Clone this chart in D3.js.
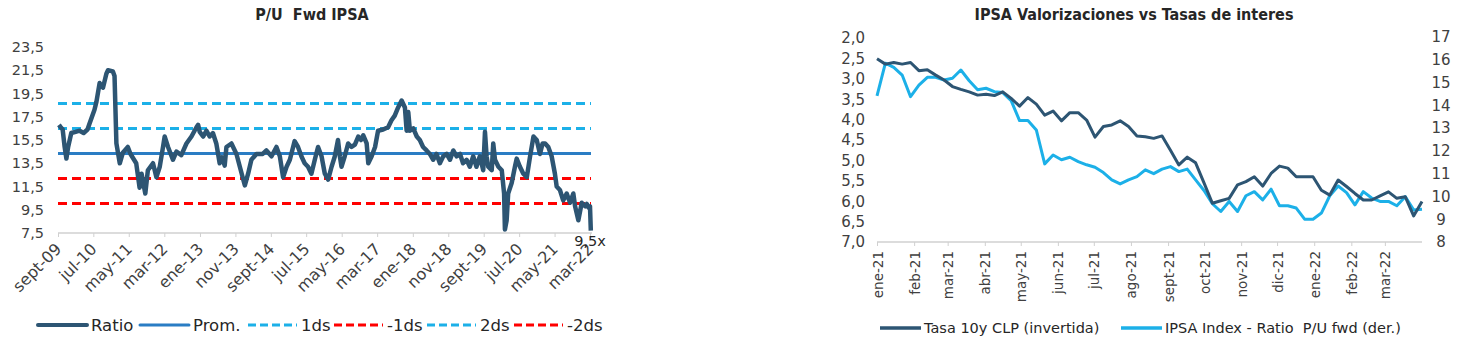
<!DOCTYPE html>
<html>
<head>
<meta charset="utf-8">
<script src="https://cdn.jsdelivr.net/npm/d3@7"></script>
<style>
  body { margin: 0; background: #fff; }
  text { font-family: "DejaVu Sans", sans-serif; }
  text.title { font-family: "DejaVu Sans Condensed", "DejaVu Sans", sans-serif; }
</style>
</head>
<body>
<svg id="chart" width="1470" height="354"></svg>
<script>
// ---------- data: P/U fwd IPSA (left chart) ----------
const ratioDates = ["2009-09-09","2009-09-24","2009-10-11","2009-10-28","2009-11-12","2009-11-27","2009-12-24","2010-01-30","2010-03-05","2010-04-09",
  "2010-05-12","2010-05-29","2010-07-11","2010-07-28","2010-08-24","2010-09-22","2010-10-21","2010-11-04","2010-12-16","2010-12-30",
  "2011-01-15","2011-02-13","2011-03-11","2011-04-23","2011-05-16","2011-07-04","2011-08-02","2011-08-19","2011-09-20","2011-10-12",
  "2011-11-25","2011-12-24","2012-01-22","2012-02-19","2012-03-04","2012-04-02","2012-05-14","2012-06-13","2012-07-25","2012-09-07",
  "2012-10-20","2012-12-02","2012-12-16","2012-12-30","2013-01-28","2013-02-26","2013-03-25","2013-04-22","2013-05-21","2013-06-19",
  "2013-07-10","2013-08-01","2013-08-16","2013-09-28","2013-11-10","2013-12-09","2014-01-07","2014-01-21","2014-02-18","2014-03-18",
  "2014-04-30","2014-06-23","2014-07-25","2014-09-07","2014-10-19","2014-11-17","2014-12-15","2015-01-14","2015-02-11","2015-03-24",
  "2015-04-22","2015-05-21","2015-06-18","2015-07-17","2015-08-15","2015-09-13","2015-10-11","2015-11-10","2015-12-08","2016-01-06",
  "2016-02-04","2016-03-03","2016-03-30","2016-04-15","2016-04-29","2016-05-27","2016-06-25","2016-07-24","2016-08-22","2016-09-20",
  "2016-10-13","2016-11-02","2016-12-01","2016-12-15","2017-01-13","2017-02-11","2017-03-09","2017-04-21","2017-06-03","2017-07-02",
  "2017-07-30","2017-08-28","2017-09-27","2017-10-25","2017-11-09","2017-11-23","2017-12-07","2018-01-05","2018-02-04","2018-03-02",
  "2018-03-30","2018-04-29","2018-05-27","2018-06-24","2018-07-23","2018-08-21","2018-09-19","2018-10-18","2018-11-16","2018-12-14",
  "2019-01-12","2019-02-10","2019-03-08","2019-04-07","2019-05-05","2019-06-03","2019-07-01","2019-07-30","2019-08-28","2019-09-12",
  "2019-09-26","2019-10-10","2019-11-09","2019-11-22","2019-12-07","2020-01-05","2020-02-03","2020-02-23","2020-03-01","2020-03-16",
  "2020-03-29","2020-04-28","2020-05-26","2020-06-10","2020-07-08","2020-08-06","2020-09-05","2020-10-03","2020-11-01","2020-11-29",
  "2020-12-27","2021-01-18","2021-02-09","2021-03-08","2021-04-06","2021-05-04","2021-05-19","2021-06-16","2021-07-14","2021-08-13",
  "2021-09-11","2021-10-09","2021-10-24","2021-11-21","2021-12-20","2022-01-18","2022-02-02","2022-02-16","2022-03-01","2022-03-08"];
const ratioValues = [16.8,16.6,16.4,14.9,13.9,14.9,16.1,16.2,16.3,16.1,
  16.4,16.9,18.1,18.8,20.4,20.0,21.2,21.5,21.4,21.0,
  15.2,13.5,14.4,14.9,14.3,13.5,11.4,12.6,10.9,12.9,
  13.5,12.3,13.2,14.9,15.8,14.9,13.8,14.5,14.2,15.2,
  15.8,16.6,16.8,16.2,15.8,16.3,15.8,16.1,15.2,13.5,
  14.0,13.3,14.9,15.2,14.3,13.2,12.1,11.6,12.6,13.8,
  14.3,14.3,14.6,14.1,14.9,14.1,12.3,13.2,13.8,15.4,
  14.9,14.1,13.5,13.2,12.6,13.8,14.9,14.1,12.6,12.1,
  13.2,14.1,15.5,14.1,13.2,14.1,15.2,14.9,15.1,15.8,
  15.5,15.9,15.2,13.5,14.1,14.9,16.3,16.4,16.6,17.2,
  17.6,18.3,18.9,18.3,16.3,17.9,16.3,16.5,15.8,15.5,
  14.9,14.6,14.3,13.8,14.3,13.5,14.1,14.3,13.8,14.6,
  14.1,14.3,13.5,13.8,13.2,14.1,13.2,14.1,12.9,16.2,
  14.1,13.2,12.9,15.2,13.8,13.2,12.9,10.9,7.8,8.6,
  10.9,11.8,13.2,13.9,13.2,12.6,12.3,14.1,15.8,15.5,
  14.3,15.2,15.2,14.9,14.1,12.6,11.5,11.2,10.3,10.9,
  10.1,10.9,9.8,8.6,10.1,9.8,10.0,9.7,9.8,7.7];
const bandNames = ["Prom.", "1ds", "-1ds", "2ds", "-2ds"];
const bandValues = [14.34, 16.49, 12.19, 18.64, 10.04];
const leftYTicks = [7.5, 9.5, 11.5, 13.5, 15.5, 17.5, 19.5, 21.5, 23.5];
const leftXTickDates = ["2009-09-01","2010-07-01","2011-05-01","2012-03-01","2013-01-01","2013-11-01","2014-09-01","2015-07-01",
  "2016-05-01","2017-03-01","2018-01-01","2018-11-01","2019-09-01","2020-07-01","2021-05-01","2022-03-01"];
const leftXTickLabels = ["sept-09","jul-10","may-11","mar-12","ene-13","nov-13","sept-14","jul-15",
  "may-16","mar-17","ene-18","nov-18","sept-19","jul-20","may-21","mar-22"];
const lastLabel = "9,5x";

// ---------- data: IPSA valorizaciones vs tasas (right chart) ----------
const tasa10y = [2.51,2.64,2.60,2.64,2.60,2.80,2.78,2.91,3.03,3.19,3.26,3.32,3.40,3.38,3.41,3.32,3.48,3.67,3.46,3.62,
  3.89,3.79,4.03,3.83,3.83,4.01,4.43,4.17,4.13,4.03,4.17,4.40,4.42,4.46,4.40,4.75,5.11,4.92,5.06,5.55,
  6.05,5.99,5.93,5.60,5.52,5.40,5.63,5.32,5.14,5.19,5.40,5.40,5.40,5.73,5.85,5.48,5.64,5.81,5.97,5.97,
  5.87,5.77,5.93,5.89,6.36,6.01];
const ipsaPU = [14.41,15.85,15.67,15.33,14.38,14.89,15.23,15.23,15.11,15.19,15.55,15.08,14.68,14.75,14.60,14.56,14.21,13.33,13.33,12.92,
  11.43,11.82,11.61,11.72,11.53,11.39,11.28,11.05,10.73,10.55,10.73,10.87,11.17,11.00,11.20,11.31,11.09,11.20,10.73,10.26,
  9.68,9.34,9.78,9.34,10.03,10.21,9.85,10.32,9.59,9.59,9.49,9.00,9.00,9.27,10.03,10.46,10.17,9.63,10.21,9.93,
  9.78,9.78,9.59,9.99,9.41,9.44];
const rightStart = "2021-01-01", rightEnd = "2022-04-01";
const rightXTickDates = ["2021-01-01","2021-02-01","2021-03-01","2021-04-01","2021-05-01","2021-06-01","2021-07-01","2021-08-01",
  "2021-09-01","2021-10-01","2021-11-01","2021-12-01","2022-01-01","2022-02-01","2022-03-01"];
const rightXTickLabels = ["ene-21","feb-21","mar-21","abr-21","may-21","jun-21","jul-21","ago-21",
  "sept-21","oct-21","nov-21","dic-21","ene-22","feb-22","mar-22"];
const tasaTicks = [2.0, 2.5, 3.0, 3.5, 4.0, 4.5, 5.0, 5.5, 6.0, 6.5, 7.0];
const puTicks = [8, 9, 10, 11, 12, 13, 14, 15, 16, 17];

const parse = d3.timeParse("%Y-%m-%d");
const fmt1 = d => d3.format(".1f")(d).replace(".", ",");
const svg = d3.select("#chart");

const darkBlue = "#2d5573", midBlue = "#2a7dc4", lightBlue = "#1cb0e8", red = "#ff0000", axisGray = "#d0d0d0", labelCol = "#404040";

// ================= LEFT CHART =================
const L = { x0: 58, x1: 590, y0: 233, y1: 47 };
const xL = d3.scaleTime().domain([parse("2009-09-01"), parse("2022-03-01")]).range([L.x0, L.x1]);
const yL = d3.scaleLinear().domain([7.5, 23.5]).range([L.y0, L.y1]);

svg.append("text").attr("class", "title").attr("x", 312).attr("y", 20).attr("text-anchor", "middle")
  .attr("font-size", 16).attr("font-weight", "bold").attr("fill", "#262626")
  .attr("xml:space", "preserve").text("P/U  Fwd IPSA");

const gLy = svg.append("g").attr("transform", `translate(${L.x0},0)`)
  .call(d3.axisLeft(yL).tickValues(leftYTicks).tickSize(0).tickPadding(14).tickFormat(fmt1));
gLy.select(".domain").remove();
gLy.selectAll("text").attr("font-size", 14.5).attr("fill", labelCol).attr("font-family", null);

const gLx = svg.append("g").attr("transform", `translate(0,${L.y0})`)
  .call(d3.axisBottom(xL).tickValues(leftXTickDates.map(parse)).tickSize(4).tickFormat((d, i) => leftXTickLabels[i]));
gLx.select(".domain").attr("stroke", axisGray).attr("stroke-width", 1.5).attr("d", `M${L.x0},0H${L.x1 + 2}`);
gLx.selectAll(".tick line").attr("stroke", axisGray);
gLx.selectAll("text").attr("font-size", 16).attr("fill", labelCol).attr("font-family", null)
  .attr("text-anchor", "end").attr("dy", null).attr("y", 0)
  .attr("transform", "translate(4,17) rotate(-45)");

const bandStyle = {
  "Prom.": { color: midBlue, dash: null },
  "1ds": { color: lightBlue, dash: "9,5" },
  "-1ds": { color: red, dash: "9,5" },
  "2ds": { color: lightBlue, dash: "9,5" },
  "-2ds": { color: red, dash: "9,5" }
};
bandNames.forEach((name, i) => {
  svg.append("line")
    .attr("x1", L.x0).attr("x2", L.x1 + 1)
    .attr("y1", yL(bandValues[i])).attr("y2", yL(bandValues[i]))
    .attr("stroke", bandStyle[name].color).attr("stroke-width", 3)
    .attr("stroke-dasharray", bandStyle[name].dash);
});

const ratio = ratioDates.map((d, i) => ({ date: parse(d), value: ratioValues[i] }));
svg.append("path").datum(ratio)
  .attr("fill", "none").attr("stroke", darkBlue).attr("stroke-width", 4.5)
  .attr("stroke-linejoin", "round")
  .attr("d", d3.line().x(d => xL(d.date)).y(d => yL(d.value)));

svg.append("text").attr("x", 590).attr("y", 246).attr("text-anchor", "middle")
  .attr("font-size", 14.5).attr("fill", "#262626").text(lastLabel);

// left legend
const legL = [
  { name: "Ratio", color: darkBlue, dash: null, w: 4, x: 38 },
  { name: "Prom.", color: midBlue, dash: null, w: 3, x: 140 },
  { name: "1ds", color: lightBlue, dash: "8,4", w: 3, x: 248 },
  { name: "-1ds", color: red, dash: "8,4", w: 3, x: 334 },
  { name: "2ds", color: lightBlue, dash: "8,4", w: 3, x: 427 },
  { name: "-2ds", color: red, dash: "8,4", w: 3, x: 514 }
];
const gLegL = svg.append("g");
legL.forEach(d => {
  gLegL.append("line").attr("x1", d.x).attr("x2", d.x + 49).attr("y1", 325).attr("y2", 325)
    .attr("stroke", d.color).attr("stroke-width", d.w).attr("stroke-dasharray", d.dash)
    .attr("stroke-linecap", d.dash ? null : "round");
  gLegL.append("text").attr("x", d.x + 53).attr("y", 331).attr("font-size", 16.5)
    .attr("fill", "#262626").text(d.name);
});

// ================= RIGHT CHART =================
const R = { x0: 877, x1: 1422, y0: 242, y1: 37 };
const xR = d3.scaleTime().domain([parse(rightStart), parse(rightEnd)]).range([R.x0, R.x1]);
const yRl = d3.scaleLinear().domain([7, 2]).range([R.y0, R.y1 + 1]);
const yRr = d3.scaleLinear().domain([8, 17]).range([R.y0, R.y1]);
const weeks = d3.timeDay.range(parse(rightStart), d3.timeDay.offset(parse(rightEnd), 1), 7);

svg.append("text").attr("class", "title").attr("x", 1134).attr("y", 20).attr("text-anchor", "middle")
  .attr("font-size", 16).attr("font-weight", "bold").attr("fill", "#262626")
  .text("IPSA Valorizaciones vs Tasas de interes");

const gRl = svg.append("g").attr("transform", `translate(${R.x0},0)`)
  .call(d3.axisLeft(yRl).tickValues(tasaTicks).tickSize(0).tickPadding(12).tickFormat(fmt1));
gRl.select(".domain").remove();
gRl.selectAll("text").attr("font-size", 15).attr("fill", labelCol).attr("font-family", null);

const gRr = svg.append("g").attr("transform", `translate(${R.x1},0)`)
  .call(d3.axisRight(yRr).tickValues(puTicks).tickSize(0).tickPadding(19).tickFormat(d3.format("d")));
gRr.select(".domain").remove();
gRr.selectAll("text").attr("font-size", 15).attr("fill", labelCol).attr("font-family", null)
  .attr("text-anchor", "middle");

const gRx = svg.append("g").attr("transform", `translate(0,${R.y0})`)
  .call(d3.axisBottom(xR).tickValues(rightXTickDates.map(parse)).tickSize(4).tickFormat((d, i) => rightXTickLabels[i]));
gRx.select(".domain").attr("stroke", axisGray).attr("stroke-width", 1.5).attr("d", `M${R.x0},0H${R.x1}`);
gRx.selectAll(".tick line").attr("stroke", axisGray);
gRx.selectAll("text").attr("font-size", 13.5).attr("fill", labelCol).attr("font-family", null)
  .attr("text-anchor", "end").attr("dy", null).attr("y", 0)
  .attr("transform", "translate(5,9) rotate(-90)");

const tasaData = weeks.map((d, i) => ({ date: d, value: tasa10y[i] }));
const puData = weeks.map((d, i) => ({ date: d, value: ipsaPU[i] }));
svg.append("path").datum(puData)
  .attr("fill", "none").attr("stroke", lightBlue).attr("stroke-width", 3).attr("stroke-linejoin", "round")
  .attr("d", d3.line().x(d => xR(d.date)).y(d => yRr(d.value)));
svg.append("path").datum(tasaData)
  .attr("fill", "none").attr("stroke", darkBlue).attr("stroke-width", 3).attr("stroke-linejoin", "round")
  .attr("d", d3.line().x(d => xR(d.date)).y(d => yRl(d.value)));

// right legend
const legR = [
  { name: "Tasa 10y CLP (invertida)", color: darkBlue, x: 880 },
  { name: "IPSA Index - Ratio  P/U fwd (der.)", color: lightBlue, x: 1121 }
];
legR.forEach(d => {
  svg.append("line").attr("x1", d.x).attr("x2", d.x + 41).attr("y1", 328).attr("y2", 328)
    .attr("stroke", d.color).attr("stroke-width", 3.5);
  svg.append("text").attr("x", d.x + 44).attr("y", 333).attr("font-size", 14.5)
    .attr("fill", "#262626").attr("xml:space", "preserve").text(d.name);
});
</script>
</body>
</html>
